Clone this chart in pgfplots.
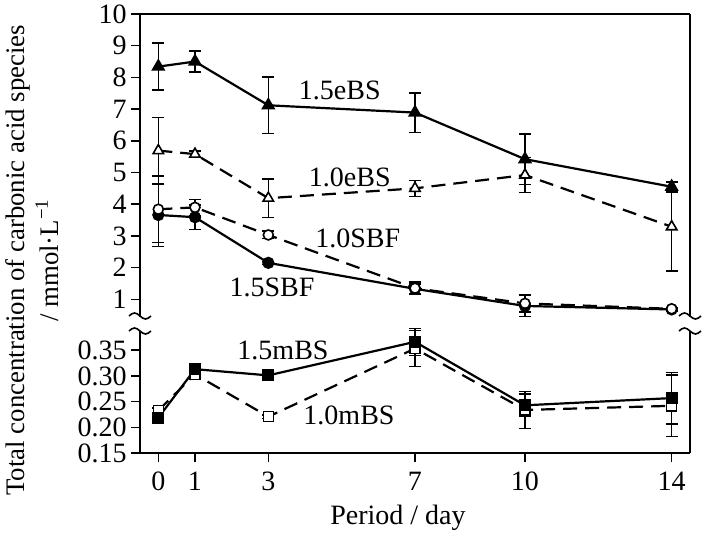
\documentclass[border=0pt]{standalone}
\usepackage{fontspec}
\setmainfont{Liberation Serif}
\usepackage{pgfplots}
\usepackage{pgfplotstable}
\pgfplotsset{compat=1.18}

\pgfplotstableread{
x y e
0 8.34 0.74
1 8.50 0.33
3 7.12 0.89
7 6.89 0.62
10 5.42 0.79
14 4.55 0.16
}\eBSa
\pgfplotstableread{
x y e
0 5.69 1.05
1 5.58 0.10
3 4.19 0.61
7 4.50 0.25
10 4.92 0.55
14 3.29 1.40
}\eBSb
\pgfplotstableread{
x y e
0 3.84 1.05
1 3.90 0.25
3 3.03 0.12
7 1.35 0.20
10 0.87 0.27
14 0.70 0.05
}\SBFb
\pgfplotstableread{
x y e
0 3.66 1.00
1 3.59 0.38
3 2.15 0.05
7 1.33 0.15
10 0.79 0.34
14 0.68 0.05
}\SBFa
\pgfplotstableread{
x y e
0 0.219 0.004
1 0.313 0.006
3 0.301 0.004
7 0.366 0.026
10 0.243 0.022
14 0.257 0.050
}\mBSa
\pgfplotstableread{
x y e
0 0.233 0.005
1 0.303 0.004
3 0.221 0.003
7 0.353 0.035
10 0.234 0.036
14 0.242 0.060
}\mBSb

\begin{document}
\fontsize{14}{17}\selectfont
\begin{tikzpicture}[x=1pt,y=1pt]
\path[use as bounding box] (-70pt,-43.35pt) rectangle (284pt,226.65pt);
\pgfplotsset{
 base/.style={scale only axis, width=275pt, xmin=-0.5, xmax=14.5,
   tick align=outside, major tick length=4.5pt, ytick pos=left,
   axis line style={line width=0.8pt}, tick style={line width=0.8pt, black},
   /pgf/number format/assume math mode=true,
   tick label style={font=\fontsize{14}{17}\selectfont},
   yticklabel style={inner sep=2pt},
   clip=false},
 eb/.style={error bars/.cd, y dir=both, y explicit,
   error bar style={solid, line width=0.7pt},
   error mark options={rotate=90, mark size=3pt, solid, line width=0.7pt}},
 sol/.style={line width=1.1pt, black},
 dsh/.style={line width=1.1pt, black, dash pattern=on 7pt off 4pt},
}
\begin{axis}[base, at={(0pt,68.15pt)}, anchor=south west, height=151.5pt,
  ymin=0.442, ymax=10, ytick={1,2,...,10}, hide x axis]
\addplot[dsh, mark=triangle*, mark size=3pt, mark options={solid, fill=white, line width=0.8pt}, eb] table[x=x,y=y,y error=e]{\eBSb};
\addplot[sol, mark=triangle*, mark size=3pt, mark options={solid, fill=black}, eb] table[x=x,y=y,y error=e]{\eBSa};
\addplot[sol, mark=*, mark size=2.5pt, mark options={solid, fill=black}, eb] table[x=x,y=y,y error=e]{\SBFa};
\addplot[dsh, mark=*, mark size=2.5pt, mark options={solid, fill=white, line width=0.8pt}, eb] table[x=x,y=y,y error=e]{\SBFb};
\draw[line width=0.8pt] (rel axis cs:0,1) -- (rel axis cs:1,1);
\node at (axis cs:4.95,7.60) {1.5eBS};
\node at (axis cs:5.22,4.86) {1.0eBS};
\node at (axis cs:5.44,2.93) {1.0SBF};
\node at (axis cs:3.1,1.39) {1.5SBF};
\end{axis}
\begin{axis}[base, at={(0pt,0pt)}, anchor=south west, height=61.15pt,
  ymin=0.15, ymax=0.387, ytick={0.15,0.20,...,0.35}, axis x line*=bottom,
  xtick={0,1,3,7,10,14}, xtick pos=bottom,
  yticklabel style={/pgf/number format/.cd, fixed, fixed zerofill, precision=2}]
\addplot[dsh, mark=square*, mark size=2.5pt, mark options={solid, fill=white, line width=0.8pt}, eb] table[x=x,y=y,y error=e]{\mBSb};
\addplot[sol, mark=square*, mark size=2.5pt, mark options={solid, fill=black}, eb] table[x=x,y=y,y error=e]{\mBSa};
\node at (axis cs:3.4,0.350) {1.5mBS};
\node at (axis cs:5.2,0.224) {1.0mBS};
\end{axis}
% axis break marks
\foreach \xx in {0,275} {
  \draw[line width=0.8pt] (\xx pt-5.5pt,68.65pt) sin (\xx pt-2.75pt,70.15pt) cos (\xx pt,68.65pt) sin (\xx pt+2.75pt,67.15pt) cos (\xx pt+5.5pt,68.65pt);
  \draw[line width=0.8pt] (\xx pt-5.5pt,61.15pt) sin (\xx pt-2.75pt,62.65pt) cos (\xx pt,61.15pt) sin (\xx pt+2.75pt,59.65pt) cos (\xx pt+5.5pt,61.15pt);
}
\node[rotate=90, align=center, font=\fontsize{13.4}{17}\selectfont] at (-54pt,96.5pt)
  {Total concentration of carbonic acid species\\/ mmol{\textperiodcentered}L\textsuperscript{−1}};
\node at (129pt,-32.35pt) {Period / day};
\end{tikzpicture}
\end{document}
